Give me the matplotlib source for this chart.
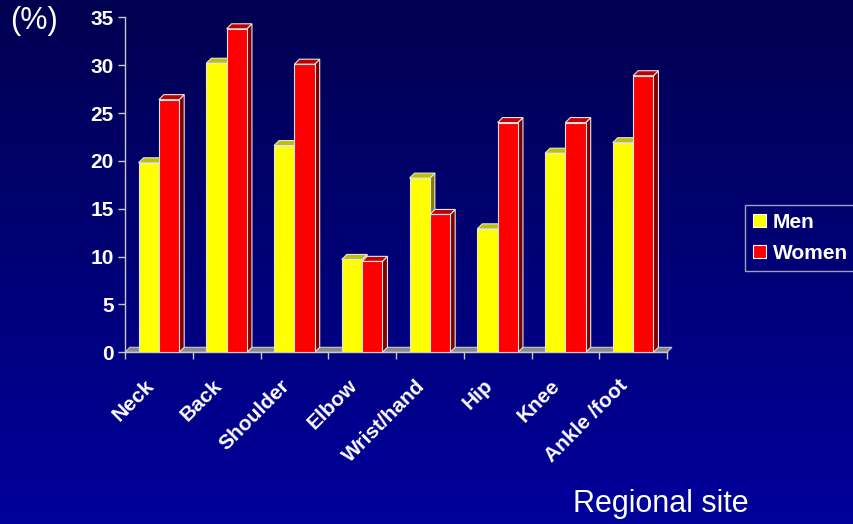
import numpy as np
import matplotlib
matplotlib.use("Agg")
import matplotlib.pyplot as plt
from matplotlib.patches import Polygon, Patch
from matplotlib.colors import LinearSegmentedColormap
from matplotlib.transforms import ScaledTranslation

plt.rcParams['font.family'] = ['Liberation Sans', 'DejaVu Sans']

# Prevalence of pain by regional site (%)
categories = ["Neck", "Back", "Shoulder", "Elbow", "Wrist/hand", "Hip", "Knee", "Ankle /foot"]
men = [19.8, 30.2, 21.6, 9.7, 18.2, 12.9, 20.8, 21.9]
women = [26.4, 33.8, 30.1, 9.5, 14.4, 24.0, 24.0, 28.9]
y_ticks = [0, 5, 10, 15, 20, 25, 30, 35]
series_names = ["Men", "Women"]

W, H = 854, 524
fig = plt.figure(figsize=(W / 100, H / 100), dpi=100)

# slide-style vertical gradient background
bg = fig.add_axes([0, 0, 1, 1], zorder=-10)
grad = np.linspace(0, 1, 256).reshape(-1, 1)
cmap = LinearSegmentedColormap.from_list("bg", ["#000050", "#00009C"])
bg.imshow(grad, aspect='auto', cmap=cmap, extent=[0, 1, 0, 1], origin='upper')
bg.axis('off')

left_px, right_px, top_px, bottom_px = 125, 667, 17.3, 352.3
ax = fig.add_axes([left_px / W, 1 - bottom_px / H,
                   (right_px - left_px) / W, (bottom_px - top_px) / H])
ax.set_facecolor('none')
n = len(categories)
ax.set_xlim(-0.5, n - 0.5)
ax.set_ylim(0, 35)

# pseudo-3D depth, 5 px back and up, converted to data units
px_x = (right_px - left_px) / n
px_y = (bottom_px - top_px) / 35
dx, dy = 5 / px_x, 5 / px_y

edge = '#E4E4E4'
axis_col = '#C8C8C8'
fs = 15

# floor
floor = Polygon([(-0.5, 0), (n - 0.5, 0), (n - 0.5 + dx, dy), (-0.5 + dx, dy)],
                closed=True, facecolor='#8A8A8A', edgecolor=axis_col, lw=0.8,
                zorder=2, clip_on=False)
ax.add_patch(floor)

w = 0.3
styles = [
    (men, -0.15, '#FFFF00', '#C0C000', '#808000'),
    (women, 0.15, '#FF0000', '#C00000', '#800000'),
]
x = np.arange(n)
z = 3.0
for i in range(n):
    for vals, off, front_c, top_c, side_c in styles:
        v = vals[i]
        x0 = i + off - w / 2
        x1 = x0 + w
        side = Polygon([(x1, 0), (x1 + dx, dy), (x1 + dx, v + dy), (x1, v)],
                       closed=True, facecolor=side_c, edgecolor=edge, lw=0.8,
                       zorder=z, clip_on=False)
        top = Polygon([(x0, v), (x1, v), (x1 + dx, v + dy), (x0 + dx, v + dy)],
                      closed=True, facecolor=top_c, edgecolor=edge, lw=0.8,
                      zorder=z, clip_on=False)
        ax.add_patch(side)
        ax.add_patch(top)
        ax.bar(i + off, v, width=w, color=front_c, edgecolor=edge,
               lw=0.8, zorder=z + 0.001)
        z += 0.01

for s in ['top', 'right']:
    ax.spines[s].set_visible(False)
for s in ['left', 'bottom']:
    ax.spines[s].set_color(axis_col)
    ax.spines[s].set_linewidth(1.0)
    ax.spines[s].set_zorder(2.5)

ax.set_yticks(y_ticks)
ax.set_yticklabels([str(t) for t in y_ticks], color='white', fontweight='bold',
                   fontsize=fs)
ax.tick_params(axis='y', direction='out', length=5, width=1, color=axis_col, pad=3)

ax.set_xticks(np.arange(-0.5, n, 1))
ax.set_xticklabels([])
ax.tick_params(axis='x', which='major', direction='out', length=5, width=1,
               color=axis_col)
ax.set_xticks(x, minor=True)
ax.set_xticklabels(categories, minor=True, rotation=45, ha='right', va='center',
                   rotation_mode='anchor', color='white', fontweight='bold',
                   fontsize=fs)
ax.tick_params(axis='x', which='minor', length=0, pad=22)
shift = ScaledTranslation(-8 / 100, 0, fig.dpi_scale_trans)
for lab in ax.get_xticklabels(minor=True):
    lab.set_transform(lab.get_transform() + shift)

handles = [Patch(facecolor='#FFFF00', edgecolor='white', lw=0.8),
           Patch(facecolor='#FF0000', edgecolor='white', lw=0.8)]
leg = fig.legend(handles, series_names, loc='upper left',
                 bbox_to_anchor=(745 / W, 1 - 205 / H), borderaxespad=0,
                 frameon=True, fancybox=False,
                 prop={'weight': 'bold', 'size': fs},
                 handlelength=0.62, handleheight=0.62, handletextpad=0.35,
                 labelspacing=0.57, borderpad=0.38, labelcolor='white')
leg.get_frame().set_facecolor('none')
leg.get_frame().set_edgecolor(axis_col)
leg.get_frame().set_linewidth(1.0)

fig.text(10 / W, 1 - 6 / H, "(%)", color='white', fontsize=22, va='top', ha='left')
fig.text(573 / W, 1 - 519 / H, "Regional site", color='white', fontsize=22,
         va='bottom', ha='left')

fig.savefig("out.png", dpi=100)
